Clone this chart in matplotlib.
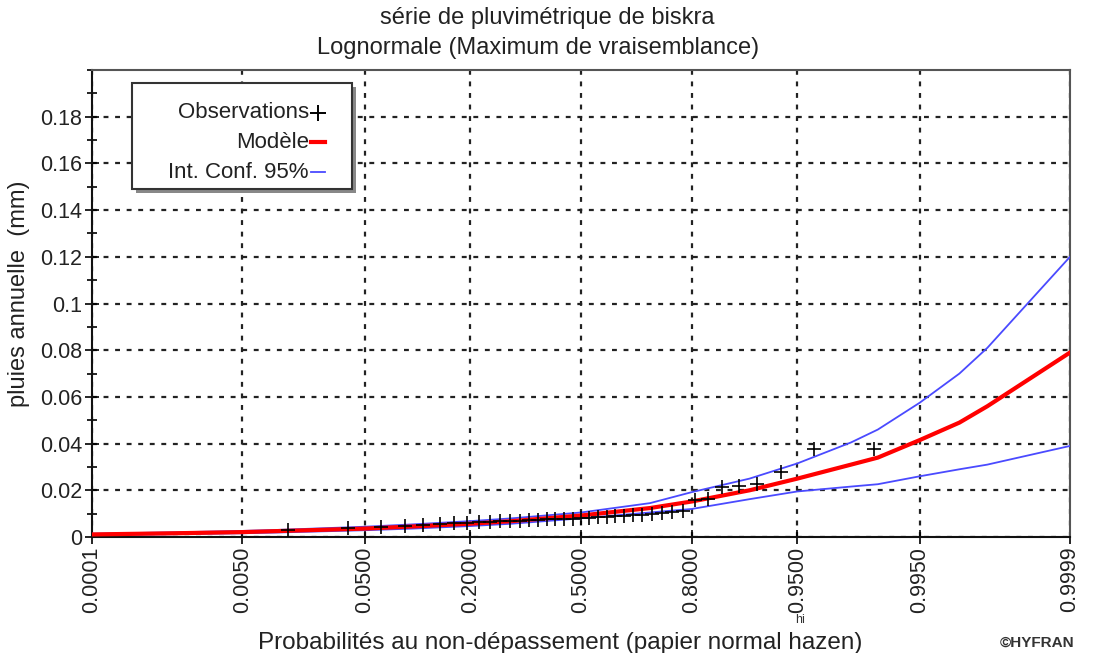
import numpy as np
import matplotlib
matplotlib.use('Agg')
import matplotlib.pyplot as plt
from matplotlib.patches import Rectangle
from matplotlib.lines import Line2D
from matplotlib.ticker import MultipleLocator, FixedLocator
from statistics import NormalDist

plt.rcParams['font.family'] = ['Liberation Sans', 'DejaVu Sans']

# pluies annuelles observées, triées (mm)
observations = [0.0030, 0.0038, 0.0042, 0.0048, 0.0050, 0.0055, 0.0058, 0.0062,
                0.0064, 0.0066, 0.0067, 0.0069, 0.0070, 0.0072, 0.0073, 0.0075,
                0.0076, 0.0078, 0.0079, 0.0081, 0.0083, 0.0085, 0.0087, 0.0089,
                0.0091, 0.0093, 0.0096, 0.0100, 0.0102, 0.0105, 0.0110, 0.0160,
                0.0162, 0.0212, 0.0217, 0.0225, 0.0280, 0.0376, 0.0376]

# courbe du modèle lognormal et intervalle de confiance à 95%
proba_modele = [0.0001, 0.001, 0.005, 0.01, 0.05, 0.1, 0.2, 0.3, 0.5, 0.7,
                0.8, 0.9, 0.95, 0.98, 0.988, 0.995, 0.998, 0.999, 0.9999]
modele = [0.0011, 0.0016, 0.0021, 0.0025, 0.0036, 0.0045, 0.0057, 0.0068, 0.0092,
          0.0124, 0.0152, 0.0200, 0.0250, 0.0310, 0.0340, 0.0415, 0.0490, 0.0560, 0.0790]
borne_sup = [0.0014, 0.0020, 0.0026, 0.0030, 0.0044, 0.0054, 0.0068, 0.0080, 0.0105,
             0.0145, 0.0192, 0.0250, 0.0315, 0.0405, 0.0460, 0.0575, 0.0700, 0.0810, 0.1200]
borne_inf = [0.0008, 0.0012, 0.0016, 0.0019, 0.0029, 0.0036, 0.0047, 0.0057, 0.0080,
             0.0105, 0.0120, 0.0162, 0.0195, 0.0216, 0.0226, 0.0260, 0.0290, 0.0310, 0.0390]

xticks = [0.0001, 0.005, 0.05, 0.2, 0.5, 0.8, 0.95, 0.995, 0.9999]
xtick_labels = ['0.0001', '0.0050', '0.0500', '0.2000', '0.5000', '0.8000',
                '0.9500', '0.9950', '0.9999']
yticks = [0, 0.02, 0.04, 0.06, 0.08, 0.1, 0.12, 0.14, 0.16, 0.18]
ytick_labels = ['0', '0.02', '0.04', '0.06', '0.08', '0.1', '0.12', '0.14', '0.16', '0.18']

# papier normal : échelle des quantiles de la loi normale
nd = NormalDist()
_ppf = np.vectorize(nd.inv_cdf, otypes=[float])
_cdf = np.vectorize(nd.cdf, otypes=[float])


def vers_normal(p):
    return _ppf(np.clip(p, 1e-9, 1 - 1e-9))


def depuis_normal(z):
    return _cdf(z)


# positions de Hazen
n = len(observations)
proba_obs = (np.arange(1, n + 1) - 0.5) / n

fig = plt.figure(figsize=(11.03, 6.53), dpi=100)
ax = fig.add_axes([92 / 1103, 116 / 653, 978 / 1103, 467 / 653])
ax.set_xscale('function', functions=(vers_normal, depuis_normal))

ax.plot(proba_modele, borne_sup, color='#4a4aff', lw=1.3, zorder=3)
ax.plot(proba_modele, borne_inf, color='#4a4aff', lw=1.3, zorder=3)
ax.plot(proba_modele, modele, color='#ff0000', lw=3, zorder=4)
ax.plot(proba_obs, observations, linestyle='none', marker='+', color='black',
        ms=10, mew=1.2, zorder=5)

ax.set_xlim(0.0001, 0.9999)
ax.set_ylim(0, 0.2)
ax.xaxis.set_major_locator(FixedLocator(xticks))
ax.xaxis.set_minor_locator(FixedLocator([]))
ax.set_xticklabels(xtick_labels, rotation=90)
ax.set_yticks(yticks)
ax.set_yticklabels(ytick_labels)
ax.yaxis.set_minor_locator(MultipleLocator(0.01))

ax.tick_params(axis='both', which='major', direction='inout', length=10,
               width=1.2, labelsize=15.5, colors='black', labelcolor='#222222')
ax.tick_params(axis='y', which='minor', direction='inout', length=7, width=1.2)
ax.tick_params(axis='x', pad=2)
ax.tick_params(axis='y', pad=2)

ax.grid(True, which='major', color='#222222', linestyle=(0, (2.2, 3)), lw=1.6)
for side in ['left', 'bottom']:
    ax.spines[side].set_color('#111111')
    ax.spines[side].set_linewidth(1.5)
for side in ['top', 'right']:
    ax.spines[side].set_color('#555555')
    ax.spines[side].set_linewidth(1.5)

ax.set_ylabel('pluies annuelle  (mm)', fontsize=17, color='#222222')
ax.yaxis.set_label_coords(-62 / 978, 0.52)
ax.set_xlabel('Probabilités au non-dépassement (papier normal hazen)',
              fontsize=17.5, color='#222222')
ax.xaxis.set_label_coords(468 / 978, -95 / 467)

fig.text(547 / 1103, 1 - 18 / 653, 'série de pluvimétrique de biskra',
         ha='center', va='center', fontsize=17, color='#222222')
fig.text(538 / 1103, 1 - 48 / 653, 'Lognormale (Maximum de vraisemblance)',
         ha='center', va='center', fontsize=17, color='#222222')
fig.text(1037 / 1103, 1 - 643 / 653, '©HYFRAN', ha='center', va='center',
         fontsize=11, fontweight='bold', color='#333333')
fig.text(800 / 1103, 1 - 620 / 653, 'hi', ha='center', va='center',
         fontsize=9, color='#333333')

# légende dessinée à la main (texte aligné à droite, symbole après)
bx0, bx1 = (132 - 92) / 978, (352 - 92) / 978
by0, by1 = (537 - 189) / 467, (537 - 83) / 467
ax.add_patch(Rectangle((bx0 + 4 / 978, by0 - 4 / 467), bx1 - bx0, by1 - by0,
                       transform=ax.transAxes, facecolor='#888888',
                       edgecolor='none', zorder=6))
ax.add_patch(Rectangle((bx0, by0), bx1 - bx0, by1 - by0, transform=ax.transAxes,
                       facecolor='white', edgecolor='#333333', lw=1.5, zorder=7))
tx = (309 - 92) / 978
rows = [(537 - 113) / 467, (537 - 142) / 467, (537 - 172) / 467]
labels = ['Observations', 'Modèle', 'Int. Conf. 95%']
for yy, lab in zip(rows, labels):
    ax.text(tx, yy, lab, transform=ax.transAxes, ha='right', va='center',
            fontsize=16, color='#222222', zorder=8)
lx0, lx1 = (311 - 92) / 978, (325 - 92) / 978
ax.add_line(Line2D([(lx0 + lx1) / 2], [rows[0]], transform=ax.transAxes,
                   marker='+', color='black', ms=12, mew=1.4, zorder=8))
ax.add_line(Line2D([lx0, lx1], [rows[1], rows[1]], transform=ax.transAxes,
                   color='#ff0000', lw=3, zorder=8))
ax.add_line(Line2D([lx0, lx1], [rows[2], rows[2]], transform=ax.transAxes,
                   color='#4a4aff', lw=1.3, zorder=8))

fig.savefig('out.png', dpi=100)
